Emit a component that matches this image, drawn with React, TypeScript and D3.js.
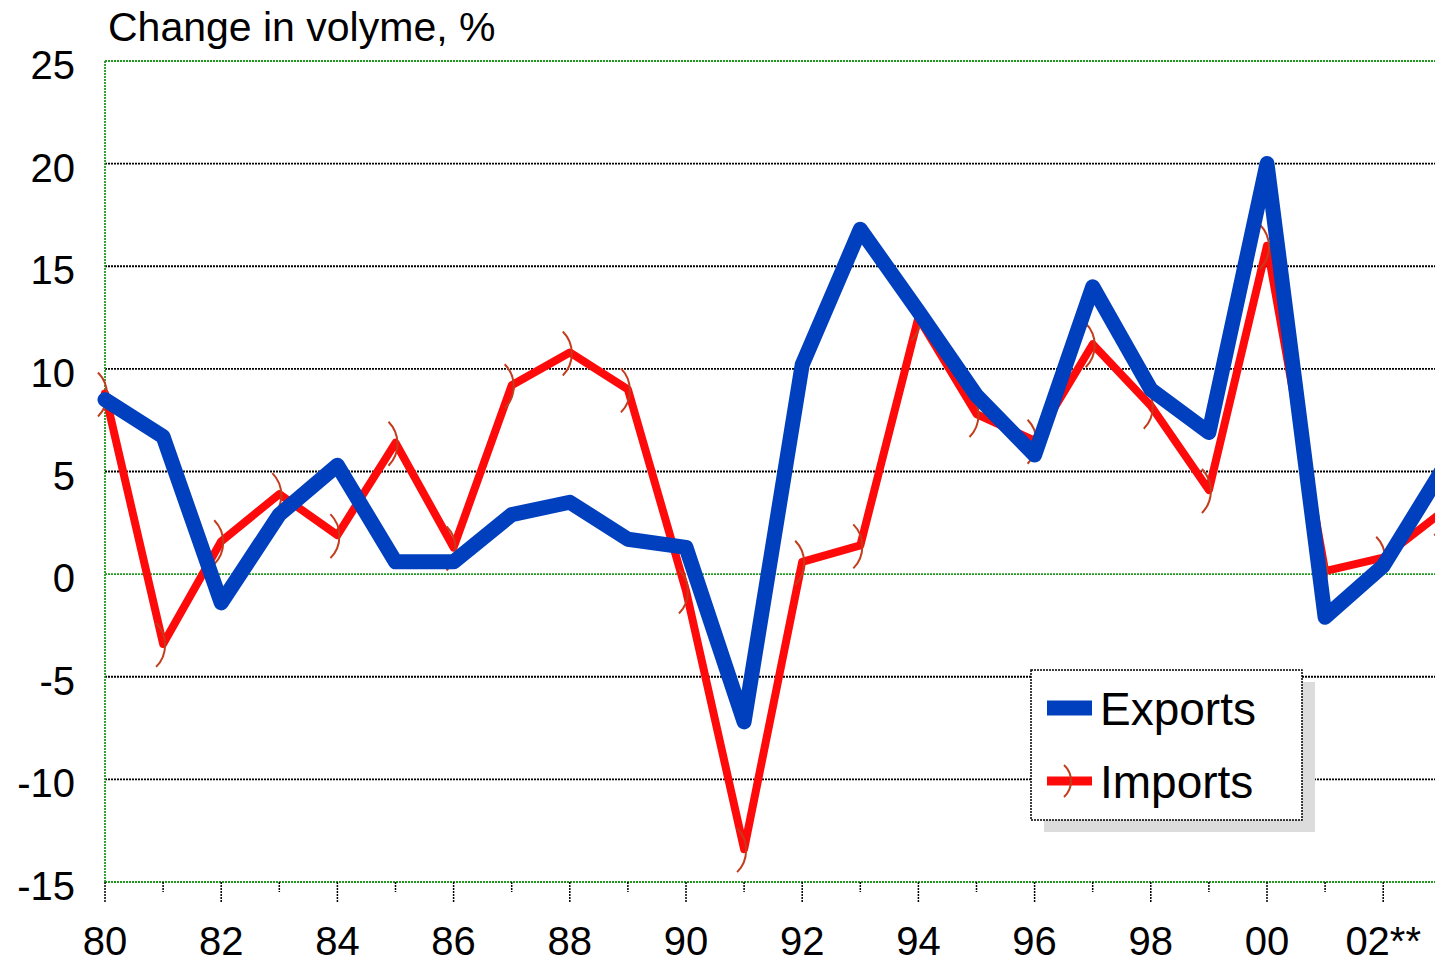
import React from "react";
import * as d3 from "d3";

const years = [1980,1981,1982,1983,1984,1985,1986,1987,1988,1989,1990,1991,1992,1993,1994,1995,1996,1997,1998,1999,2000,2001,2002,2003];
const exportsVals = [8.5,6.7,-1.4,2.9,5.3,0.6,0.6,2.9,3.5,1.7,1.3,-7.2,10.2,16.8,12.8,8.7,5.8,14.0,9.0,6.9,20.0,-2.1,0.4,5.0];
const importsVals = [8.8,-3.4,1.6,3.9,1.9,6.4,1.3,9.2,10.8,9.0,-0.8,-13.4,0.6,1.4,12.5,7.8,6.5,11.2,8.2,4.1,16.0,0.15,0.8,3.0];
const yTicks = [25,20,15,10,5,0,-5,-10,-15];
const xTickYears = [1980,1982,1984,1986,1988,1990,1992,1994,1996,1998,2000,2002];
const xTickLabels = ["80","82","84","86","88","90","92","94","96","98","00","02**"];
const seriesNames = ["Exports","Imports"];
const title = "Change in volyme, %";

const W = 1435, H = 963;
const left = 105, top = 61, bottom = 882;
const yearW = 58.1;

export default function App() {
  const x = d3.scaleLinear().domain([1980, 2003]).range([left, left + 23 * yearW]);
  const y = d3.scaleLinear().domain([-15, 25]).range([bottom, top]);
  const line = d3.line<[number, number]>().x(d => x(d[0])).y(d => y(d[1]));
  const expPts = years.map((yr, i) => [yr, exportsVals[i]] as [number, number]);
  const impPts = years.map((yr, i) => [yr, importsVals[i]] as [number, number]);
  const font = "'Liberation Sans', Arial, sans-serif";
  const green = "#1f9a1f";
  const arcPath = (cx: number, cy: number, h: number, s: number) => {
    const r = (h * h + s * s) / (2 * s);
    return `M${cx - s},${cy - h} A${r},${r} 0 0 1 ${cx - s},${cy + h}`;
  };
  const minorYears = d3.range(1981, 2003, 2);
  return (
    <svg width={W} height={H} style={{ position: "absolute", left: 0, top: 0, background: "#fff" }} fontFamily={font}>
      <defs>
        <clipPath id="plot">
          <rect x={left - 30} y={0} width={W - left + 30} height={H} />
        </clipPath>
      </defs>
      <rect x={0} y={0} width={W} height={H} fill="#fff" />
      <text x={108} y={41} fontSize={41} fill="#000">{title}</text>
      {yTicks.filter(v => v !== 0 && v !== 25 && v !== -15).map(v => (
        <line key={v} x1={left} x2={W} y1={y(v)} y2={y(v)} stroke="#000" strokeWidth={1.8} strokeDasharray="2 1" />
      ))}
      {[25, 0, -15].map(v => (
        <line key={"g" + v} x1={left} x2={W} y1={y(v)} y2={y(v)} stroke={green} strokeWidth={1.8} strokeDasharray="2 1" />
      ))}
      <line x1={left} x2={left} y1={top} y2={bottom} stroke={green} strokeWidth={1.8} strokeDasharray="2 1" />
      {xTickYears.map(yr => (
        <line key={"t" + yr} x1={x(yr)} x2={x(yr)} y1={bottom} y2={bottom + 20} stroke="#000" strokeWidth={1.5} strokeDasharray="2 1" />
      ))}
      {minorYears.map(yr => (
        <line key={"m" + yr} x1={x(yr)} x2={x(yr)} y1={bottom} y2={bottom + 10} stroke="#000" strokeWidth={1.5} strokeDasharray="2 1" />
      ))}
      {xTickYears.map((yr, i) => (
        <text key={"l" + yr} x={x(yr)} y={955} fontSize={40} textAnchor="middle" fill="#000">{xTickLabels[i]}</text>
      ))}
      {yTicks.map(v => (
        <text key={"y" + v} x={75} y={y(v) + 18} fontSize={40} textAnchor="end" fill="#000">{v}</text>
      ))}
      <g clipPath="url(#plot)">
        <path d={line(impPts) || ""} fill="none" stroke="#ff0a0a" strokeWidth={8} strokeLinejoin="round" strokeLinecap="round" />
        {impPts.map((p, i) => (
          <path key={"a" + i} d={arcPath(x(p[0]) + 2, y(p[1]) + 1, 22, 9)} fill="none" stroke="#c33c1c" strokeWidth={2} />
        ))}
        <path d={line(expPts) || ""} fill="none" stroke="#0040bf" strokeWidth={15} strokeLinejoin="round" strokeLinecap="round" />
      </g>
      <rect x={1044} y={682} width={271} height={150} fill="#dcdcdc" />
      <rect x={1031} y={670} width={271} height={150} fill="#fff" stroke="#000" strokeWidth={1.5} strokeDasharray="2 1" />
      <line x1={1047} x2={1092} y1={708} y2={708} stroke="#0040bf" strokeWidth={15} />
      <text x={1100} y={725} fontSize={46} fill="#000">{seriesNames[0]}</text>
      <line x1={1047} x2={1092} y1={781} y2={781} stroke="#ff0a0a" strokeWidth={9} />
      <path d={arcPath(1071, 781, 16, 7)} fill="none" stroke="#c33c1c" strokeWidth={2} />
      <text x={1100} y={798} fontSize={46} fill="#000">{seriesNames[1]}</text>
    </svg>
  );
}
